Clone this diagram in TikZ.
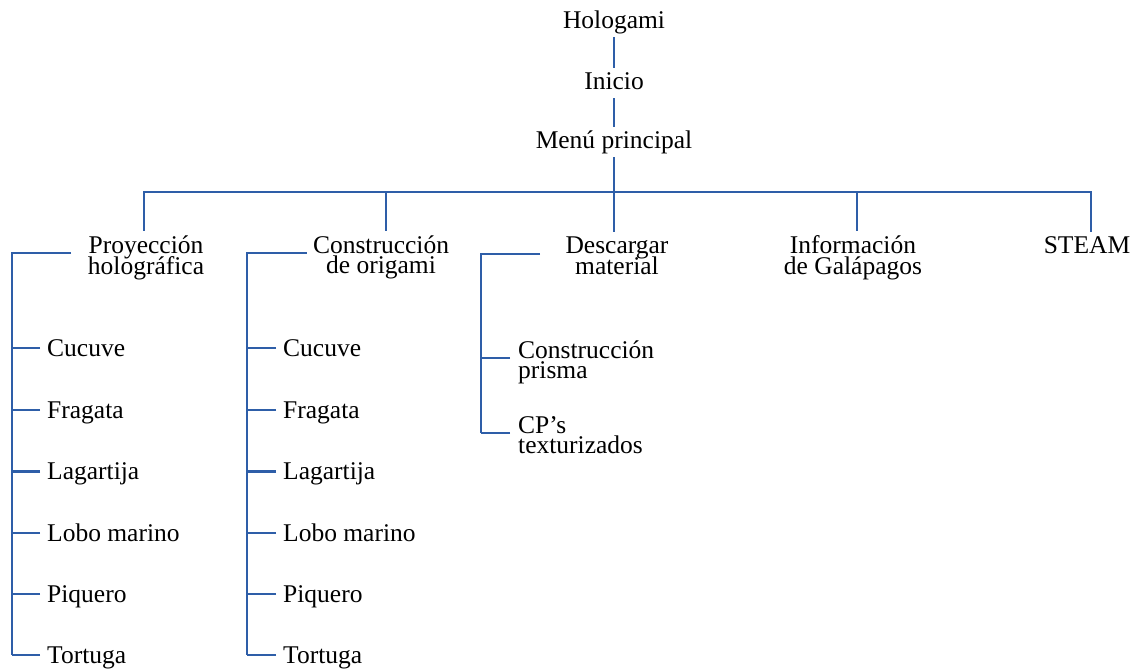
\documentclass[tikz,border=0pt]{standalone}
\usepackage{fontspec}
\setmainfont{Liberation Serif}
\definecolor{linkblue}{RGB}{46,94,168}
\newcommand\diagfont{\fontsize{25.5}{20.7}\selectfont\lineskiplimit=-40pt\relax\lineskip=0pt\relax}
\begin{document}
\begin{tikzpicture}[x=1pt,y=-1pt,
  every node/.style={font=\diagfont},
  head/.style={anchor=base,inner xsep=0pt,inner ysep=3pt,text height=18pt,text depth=6pt},
  sub/.style={anchor=base,align=center,inner xsep=0pt,inner ysep=4pt},
  leaf/.style={anchor=west,inner sep=0pt,text height=18pt,text depth=2pt},
  leaftwo/.style={anchor=base west,align=left,inner sep=0pt},
  link/.style={draw=linkblue,line width=2.3pt}]
\useasboundingbox (0,0) rectangle (1141,670);
% top chain
\node[head] (hol) at (614,28) {Hologami};
\node[head] (ini) at (614,89) {Inicio};
\node[head] (menu) at (614,148) {Menú principal};
\coordinate (bus) at (614,192);
\draw[link] (hol) -- (ini);
\draw[link] (ini) -- (menu);
\draw[link] (menu) -- (bus);
% second level (base = last line)
\node[sub] (p1) at (146,274) {Proyección\\holográfica};
\node[sub] (p2) at (381,273.7) {Construcción\\de origami};
\node[sub] (p3) at (617,274) {Descargar\\material};
\node[sub] (p4) at (853,274) {Información\\de Galápagos};
\node[sub] (p5) at (1087,253) {STEAM};
\draw[link] (bus) -| ([xshift=-2pt]p1.north);
\draw[link] (bus) -| ([xshift=5pt]p2.north);
\draw[link] (bus) -- ([xshift=-3pt]p3.north);
\draw[link] (bus) -| ([xshift=4pt]p4.north);
\draw[link] (bus) -| ([xshift=4pt]p5.north);
% column 1
\coordinate (r1) at (12,253);
\coordinate (h1) at (71,253);
\node[leaf] (a1) at (47,348) {Cucuve};
\node[leaf] (a2) at (47,410) {Fragata};
\node[leaf] (a3) at (47,471.5) {Lagartija};
\node[leaf] (a4) at (47,533) {Lobo marino};
\node[leaf] (a5) at (47,594) {Piquero};
\node[leaf] (a6) at (47,655) {Tortuga};
\draw[link] (h1) -- (r1) -- (r1 |- a6.west);
\foreach \c in {a1,a2,a3,a4,a5,a6}
  \draw[link] ([xshift=-7pt]\c.west) -- (\c.west -| r1);
% column 2
\coordinate (r2) at (247,253);
\coordinate (h2) at (306.5,253);
\node[leaf] (b1) at (283,348) {Cucuve};
\node[leaf] (b2) at (283,410) {Fragata};
\node[leaf] (b3) at (283,471.5) {Lagartija};
\node[leaf] (b4) at (283,533) {Lobo marino};
\node[leaf] (b5) at (283,594) {Piquero};
\node[leaf] (b6) at (283,655) {Tortuga};
\draw[link] (h2) -- (r2) -- (r2 |- b6.west);
\foreach \c in {b1,b2,b3,b4,b5,b6}
  \draw[link] ([xshift=-7pt]\c.west) -- (\c.west -| r2);
% column 3
\coordinate (r3) at (481,254);
\coordinate (h3) at (540,254);
\node[leaftwo] (c1) at (518,378.7) {Construcción\\prisma};
\node[leaftwo] (c2) at (518,453.7) {CP’s\\texturizados};
\path (c1.base west) ++(-8,-20.7) coordinate (t1);
\path (c2.base west) ++(-8,-20.7) coordinate (t2);
\draw[link] (h3) -- (r3) -- (r3 |- t2);
\draw[link] (t1) -- (t1 -| r3);
\draw[link] (t2) -- (t2 -| r3);
\end{tikzpicture}
\end{document}
